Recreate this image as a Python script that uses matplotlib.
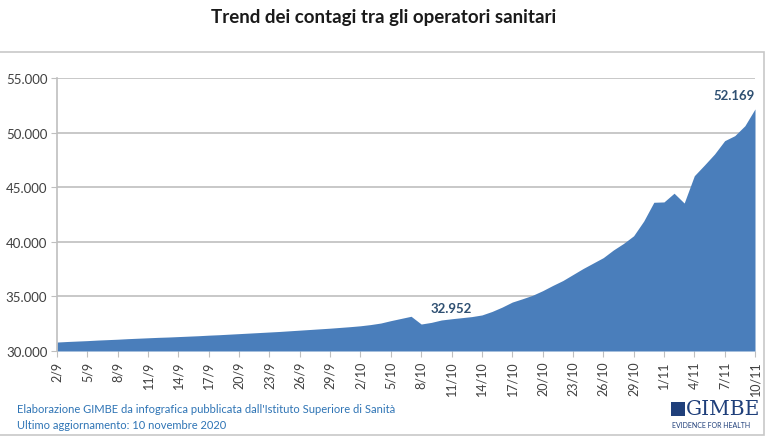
import numpy as np
import pandas as pd
import matplotlib
matplotlib.use('Agg')
import matplotlib.pyplot as plt
from matplotlib.patches import Rectangle
from matplotlib.ticker import FuncFormatter

# daily cases among health workers, 2/9 -> 10/11 2020
dates = pd.date_range('2020-09-02', '2020-11-10', freq='D')
cases = [30820, 30870, 30910, 30950, 31000, 31040, 31080, 31130, 31170, 31210,
         31250, 31280, 31320, 31360, 31400, 31450, 31490, 31540, 31590, 31640,
         31690, 31740, 31790, 31850, 31910, 31970, 32030, 32090, 32160, 32230,
         32310, 32420, 32560, 32780, 32980, 33180, 32470, 32620, 32840, 32952,
         33050, 33150, 33300, 33620, 34020, 34480, 34780, 35100, 35520, 36000,
         36450, 37000, 37550, 38050, 38550, 39250, 39850, 40550, 41900, 43620,
         43650, 44450, 43550, 46050, 47030, 48040, 49260, 49720, 50630, 52169]
labels = [f'{d.day}/{d.month}' for d in dates]
highlight = ['11/10', '10/11']

title = 'Trend dei contagi tra gli operatori sanitari'
source = "Elaborazione GIMBE da infografica pubblicata dall'Istituto Superiore di Sanità"
updated = 'Ultimo aggiornamento: 10 novembre 2020'

plt.rcParams['font.family'] = ['Lato', 'DejaVu Sans']

fig = plt.figure(figsize=(7.67, 4.39), dpi=100)
ax = fig.add_axes([57/767, 1 - 352/439, 698/767, 273/439])

x = np.arange(len(cases))
ax.fill_between(x, 30000, cases, color='#4a7ebb', lw=0)

ax.set_xlim(0, len(cases) - 1)
ax.set_ylim(30000, 55000)
ax.set_yticks(np.arange(30000, 55001, 5000))
ax.yaxis.set_major_formatter(FuncFormatter(lambda v, p: f'{int(v):,}'.replace(',', '.')))
ax.set_xticks(x[::3])
ax.set_xticklabels(labels[::3], rotation=90)

ax.grid(axis='y', color='#bfbfbf', lw=1.2)
ax.set_axisbelow(True)
for s in ['top', 'right', 'bottom']:
    ax.spines[s].set_visible(False)
ax.spines['left'].set_color('#bfbfbf')
ax.spines['left'].set_linewidth(1.2)
ax.tick_params(axis='y', length=4, color='#bfbfbf', labelsize=9.5, labelcolor='#404040', pad=3)
ax.tick_params(axis='x', length=4, color='#bfbfbf', labelsize=9, labelcolor='#404040', pad=3)

for lab in highlight:
    i = labels.index(lab)
    txt = f'{cases[i]:,}'.replace(',', '.')
    ax.annotate(txt, (x[i], cases[i]), xytext=(0, 5 if i < 60 else 7),
                textcoords='offset points', ha='center' if i < 60 else 'right',
                fontsize=9.5, fontweight='bold', color='#2f5072')

fig.text(0.5, 1 - 17/439, title, ha='center', va='center', fontsize=13.5,
         fontweight='bold', color='#1a1a1a')
fig.text(17/767, 1 - 410/439, source, ha='left', va='center', fontsize=8, color='#2e74b5')
fig.text(17/767, 1 - 426/439, updated, ha='left', va='center', fontsize=8, color='#2e74b5')

# frame around the chart area
fig.patches.append(Rectangle((-0.01, 3/439), 764/767 + 0.01, 383/439, transform=fig.transFigure,
                             fill=False, ec='#c8c8c8', lw=1.2))

# GIMBE logo
fig.patches.append(Rectangle((671/767, 1 - 417/439), 14/767, 14/439, transform=fig.transFigure,
                             fc='#1f3f7a', ec='none'))
fig.text(686/767, 1 - 410/439, 'GIMBE', ha='left', va='center', fontsize=14.5,
         family='DejaVu Serif', color='#1f3f7a')
fig.text(711/767, 1 - 426/439, 'EVIDENCE FOR HEALTH', ha='center', va='center',
         fontsize=5, color='#1f3f7a')

fig.savefig('out.png', dpi=100)
